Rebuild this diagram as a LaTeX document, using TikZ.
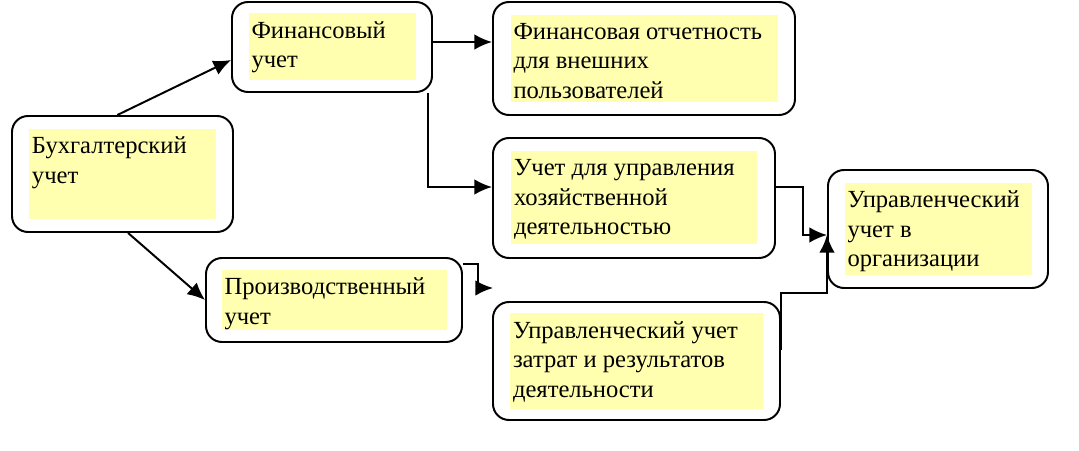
\documentclass[tikz,border=0pt]{standalone}
\usepackage{fontspec}
\setmainfont{Liberation Serif}
\usetikzlibrary{arrows.meta}

\definecolor{padYellow}{RGB}{255,255,175}

\begin{document}
\begin{tikzpicture}
[box/.style={draw=black,line width=1.4pt,rounded corners=0.4cm,fill=white,inner sep=0pt},
pad/.style={fill=padYellow,inner sep=0pt},
lbl/.style={anchor=north west,xshift=0.075cm,yshift=-0.2cm,align=left,inner sep=0pt,font=\fontsize{17.5}{21}\selectfont,execute at begin node={\strut}},
edge/.style={line width=1.4pt},
rightEnd/.style={-{Latex[length=12.5pt,width=11pt]}}]
\useasboundingbox (0,0) rectangle (26.975,11.25);
\node[box,minimum width=5.525cm,minimum height=2.9cm] (buh) at (3.0625,6.9) {};
\node[box,minimum width=5.0cm,minimum height=2.25cm] (fin) at (8.3,10.075) {};
\node[box,minimum width=7.55cm,minimum height=2.825cm] (otch) at (16.1,9.7875) {};
\node[box,minimum width=7.05cm,minimum height=3.0cm] (upr) at (15.85,6.3) {};
\node[box,minimum width=7.175cm,minimum height=2.95cm] (zat) at (15.9125,2.225) {};
\node[box,minimum width=5.5cm,minimum height=2.95cm] (org) at (23.45,5.525) {};
\node[box,minimum width=6.4cm,minimum height=2.1cm] (proizv) at (8.35,3.75) {};
\node[pad,minimum width=4.675cm,minimum height=2.25cm] (buhPad) at (buh) {};
\node[pad,minimum width=4.175cm,minimum height=1.675cm] (finPad) at (fin) {};
\node[pad,minimum width=6.675cm,minimum height=2.175cm] (otchPad) at (otch) {};
\node[pad,minimum width=6.15cm,minimum height=2.325cm] (uprPad) at (upr) {};
\node[pad,minimum width=6.325cm,minimum height=2.375cm] (zatPad) at (zat) {};
\node[pad,minimum width=4.675cm,minimum height=2.3cm] (orgPad) at (org) {};
\node[pad,minimum width=5.625cm,minimum height=1.5cm] (proizvPad) at (proizv) {};
\node[lbl] (buhTxt) at (buhPad.north west) {Бухгалтерский\\учет};
\node[lbl] (finTxt) at (finPad.north west) {Финансовый\\учет};
\node[lbl] (otchTxt) at (otchPad.north west) {Финансовая отчетность\\для внешних\\пользователей};
\node[lbl] (uprTxt) at (uprPad.north west) {Учет для управления\\хозяйственной\\деятельностью};
\node[lbl] (zatTxt) at (zatPad.north west) {Управленческий учет\\затрат и результатов\\деятельности};
\node[lbl] (orgTxt) at (orgPad.north west) {Управленческий\\учет в\\организации};
\node[lbl] (proizvTxt) at (proizvPad.north west) {Производственный\\учет};
\coordinate (finOut) at ([yshift=0.125cm]fin.east);
\coordinate (finDown) at ([xshift=-0.125cm]fin.south east);
\coordinate (uprIn) at ([yshift=0.275cm]upr.west);
\coordinate (uprOut) at ([yshift=0.275cm]upr.east);
\coordinate (orgIn) at ([yshift=-0.15cm]org.west);
\coordinate (zatOut) at ([yshift=0.275cm]zat.east);
\coordinate (proizvOut) at ([yshift=-0.175cm]proizv.north east);
\coordinate (dangling) at (12.325,4.05);
\draw[edge,rightEnd] (buh.95) -- ([yshift=-0.325cm]fin.west);
\draw[edge,rightEnd] ([xshift=0.14cm]buh.south) -- (proizv.west);
\draw[edge,rightEnd] (finOut) -- (finOut -| otch.west);
\draw[edge,rightEnd] (finDown) |- (uprIn);
\draw[edge,rightEnd] (uprOut) -- ++(0.675,0) |- (orgIn);
\draw[edge,rightEnd] (zatOut) -- ++(0,1.425) -| (orgIn);
\draw[edge,rightEnd] (proizvOut) -- ++(0.375,0) |- (dangling);
\end{tikzpicture}
\end{document}
